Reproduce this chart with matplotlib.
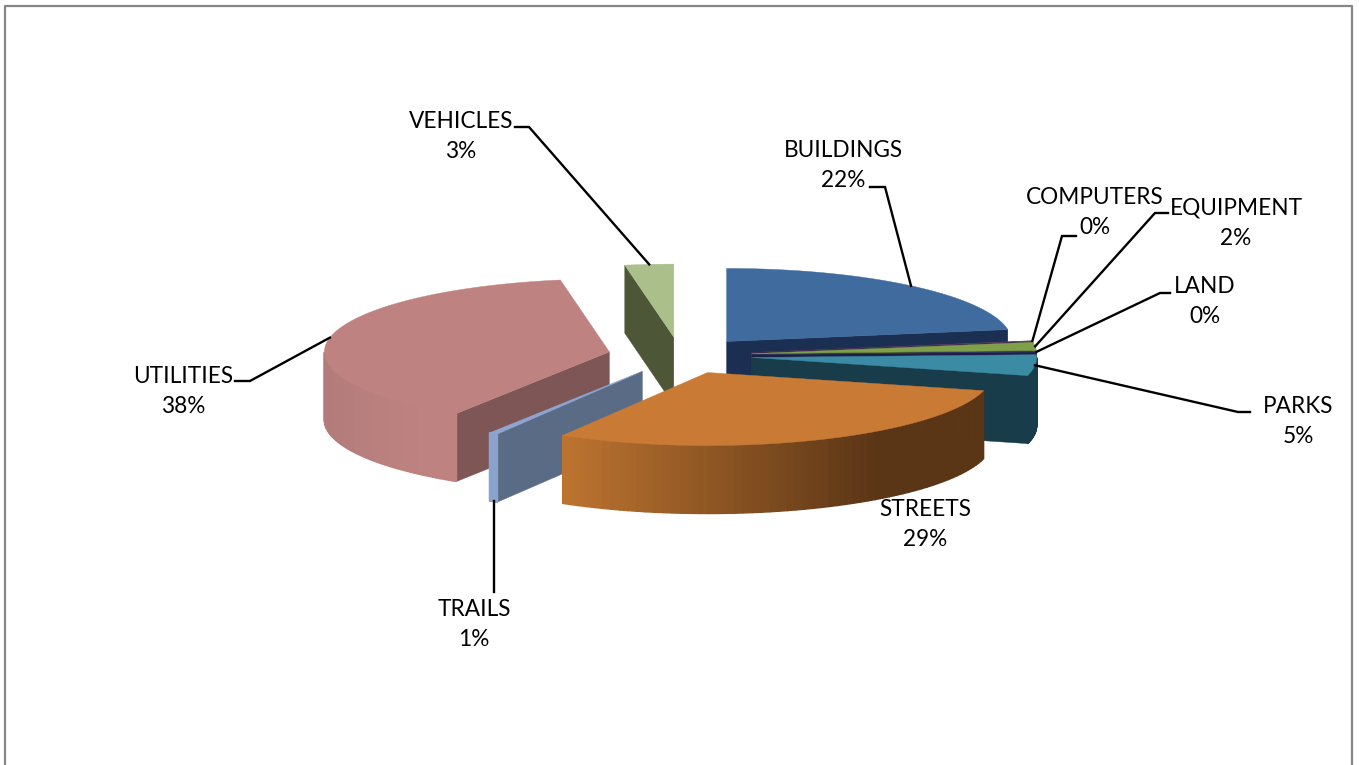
import numpy as np
import matplotlib.pyplot as plt
from matplotlib.colors import to_rgb

# Data
names = ['BUILDINGS', 'COMPUTERS', 'EQUIPMENT', 'LAND', 'PARKS',
         'STREETS', 'TRAILS', 'UTILITIES', 'VEHICLES']
shares = [22.4, 0.1, 1.8, 0.1, 4.6, 29.49, 0.52, 38.24, 2.75]

# Colours per slice: top, cut faces, rim at left, rim at right
topColors = ['#3F6B9E', '#5B3F6E', '#7F9F4B', '#2F3468', '#3C8BA5',
             '#C97A35', '#8DA5CF', '#BE8381', '#ABBF8A']
sideColors = ['#1A2F52', '#33213F', '#46582A', '#1E1F45', '#193C4A',
              '#5A3516', '#5A6B85', '#7E5656', '#4E5638']
rimLeft = ['#1A2F52', '#33213F', '#46582A', '#1E1F45', '#193C4A',
           '#BE7430', '#8AA3CC', '#B27C7A', '#4E5638']
rimRight = ['#1A2F52', '#33213F', '#46582A', '#1E1F45', '#193C4A',
            '#5A3516', '#8AA3CC', '#BE8381', '#4E5638']

# Label placement (centre of the two lines) and leader elbows
labelX = [843, 1095, 1236, 1205, 1298, 925, 474, 183, 461]
labelY = [165.5, 212.5, 223.5, 301.5, 421.5, 524.5, 624.5, 391.5, 136.5]
leaderStart = [(870, 187), (1076, 236), (1168, 213), (1170, 293), (1250, 412),
               None, (494, 592), (235, 381), (515, 127)]
leaderElbow = [(885, 187), (1062, 236), (1155, 213), (1160, 293), (1238, 412),
               None, (494, 592), (250, 381), (529, 127)]

# Pie projection, in pixels
cx, cy = 680, 355.5
rx, ry = 285, 73
depth = 68
explode = 72

# back to front
drawOrder = [8, 0, 1, 2, 3, 4, 7, 6, 5]

fig = plt.figure(figsize=(13.59, 7.65), dpi=100)
ax = fig.add_axes([0, 0, 1, 1])
ax.set_xlim(0, 1359)
ax.set_ylim(765, 0)
ax.axis('off')

# outer frame
ax.plot([5, 5, 1352, 1352], [765, 6, 6, 765], color='#868686', lw=1.6)

edges = np.cumsum([0] + shares) / np.sum(shares) * 360


def project(theta, ax0, ay0):
    t = np.radians(theta)
    return ax0 + rx * np.sin(t), ay0 - ry * np.cos(t)


def apex(i):
    mid = np.radians((edges[i] + edges[i + 1]) / 2)
    return cx + explode * np.sin(mid), cy - explode * ry / rx * np.cos(mid)


def mix(a, b, t):
    a, b = np.array(to_rgb(a)), np.array(to_rgb(b))
    return tuple(a + (b - a) * t)


def cutFace(x0, y0, theta, color):
    x1, y1 = project(theta, x0, y0)
    ax.fill([x0, x1, x1, x0], [y0, y1, y1 + depth, y0 + depth],
            color=color, lw=0.3, zorder=z)


z = 2
for i in drawOrder:
    start, end = edges[i], edges[i + 1]
    x0, y0 = apex(i)

    if np.sin(np.radians(start)) < 0:
        cutFace(x0, y0, start, sideColors[i])
    if np.sin(np.radians(end)) > 0:
        cutFace(x0, y0, end, sideColors[i])

    # rim, only the part facing the viewer, shaded strip by strip
    rimFrom, rimTo = max(start, 90), min(end, 270)
    if rimTo > rimFrom:
        steps = np.linspace(rimFrom, rimTo, 60)
        xs, ys = project(steps, x0, y0)
        order = np.argsort(xs)
        xs, ys = xs[order], ys[order]
        for k in range(len(steps) - 1):
            t = ((xs[k] + xs[k + 1]) / 2 - xs.min()) / (xs.max() - xs.min())
            col = mix(rimLeft[i], rimRight[i], min(t / 0.75, 1))
            ax.fill([xs[k], xs[k + 1], xs[k + 1], xs[k]],
                    [ys[k], ys[k + 1], ys[k + 1] + depth, ys[k] + depth],
                    color=col, lw=1.0, zorder=z)

    arc = np.linspace(start, end, 90)
    xs, ys = project(arc, x0, y0)
    ax.fill(np.r_[x0, xs], np.r_[y0, ys], color=topColors[i], lw=0.3, zorder=z + 0.5)
    z += 1

# leaders and labels
for i, name in enumerate(names):
    mid = (edges[i] + edges[i + 1]) / 2
    if leaderStart[i] is not None:
        ex, ey = project(mid, *apex(i))
        if name == 'TRAILS':
            ex, ey = leaderElbow[i][0], ey + depth
        ax.plot([leaderStart[i][0], leaderElbow[i][0], ex],
                [leaderStart[i][1], leaderElbow[i][1], ey],
                color='black', lw=1.7, zorder=50, solid_joinstyle='miter')
    ax.text(labelX[i], labelY[i], name + '\n' + str(round(shares[i])) + '%',
            ha='center', va='center', family='Lato', fontsize=16.3,
            linespacing=1.58, color='black', zorder=60)

fig.savefig('out.png', dpi=100, facecolor='white')
